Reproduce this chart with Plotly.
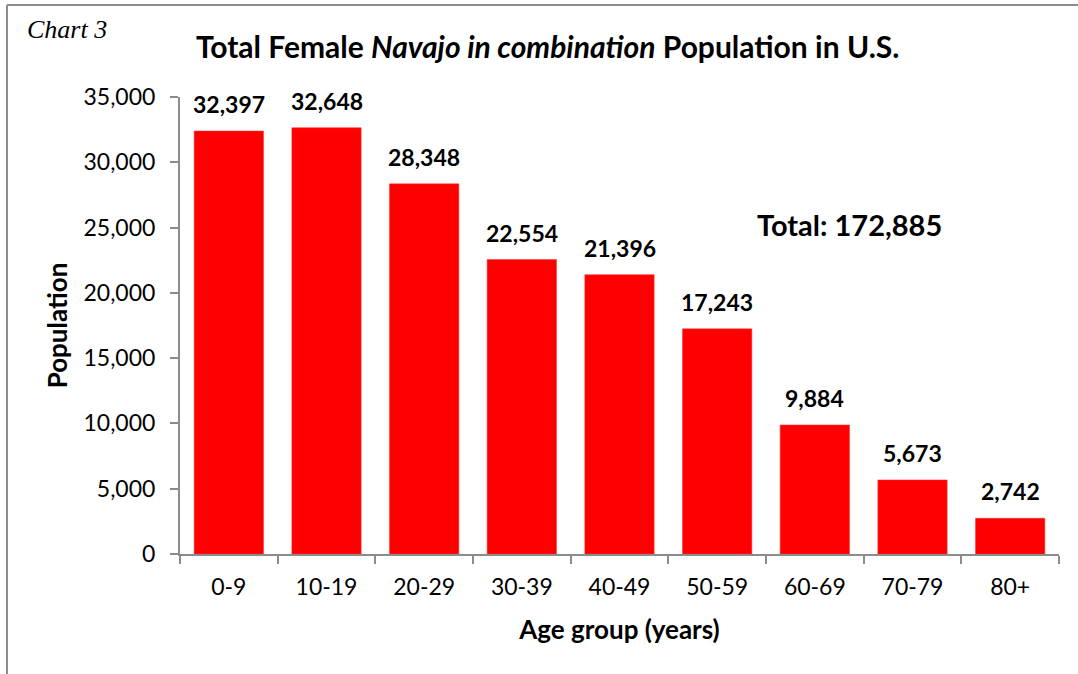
import plotly.graph_objects as go

age_groups = ["0-9", "10-19", "20-29", "30-39", "40-49", "50-59", "60-69", "70-79", "80+"]
population = [32397, 32648, 28348, 22554, 21396, 17243, 9884, 5673, 2742]
y_ticks = [0, 5000, 10000, 15000, 20000, 25000, 30000, 35000]
total_label = "Total: 172,885"

FONT = "Lato"
GREY = "#8c8c8c"

fig = go.Figure()
fig.add_trace(go.Bar(
    x=age_groups,
    y=population,
    marker=dict(color="#ff0000", line=dict(color="#ff3030", width=0.5)),
    hoverinfo="x+y",
))

# data labels above bars
for cat, val in zip(age_groups, population):
    fig.add_annotation(
        x=cat, y=val, text=f"<b>{val:,}</b>",
        showarrow=False, yanchor="bottom", yshift=11,
        font=dict(family=FONT, size=23, color="black"),
    )

fig.add_annotation(
    x="60-69", y=25000, text=f"<b>{total_label}</b>",
    showarrow=False, xanchor="center", yanchor="middle", xshift=35, yshift=3,
    font=dict(family=FONT, size=29, color="black"),
)

fig.add_annotation(
    xref="paper", yref="paper", x=-0.176, y=1.147,
    text="<i>Chart 3</i>", showarrow=False, xanchor="left", yanchor="middle",
    font=dict(family="Liberation Serif", size=26, color="black"),
)

# outer chart frame (left and top edges only visible)
fig.add_shape(type="line", xref="paper", yref="paper",
              x0=-0.1968, x1=-0.1968, y0=1.2013, y1=-0.27,
              line=dict(color=GREY, width=2))
fig.add_shape(type="line", xref="paper", yref="paper",
              x0=-0.1968, x1=1.03, y0=1.2013, y1=1.2013,
              line=dict(color=GREY, width=2))

fig.update_layout(
    width=1078, height=674,
    margin=dict(l=180, r=19, t=97, b=120),
    paper_bgcolor="white", plot_bgcolor="white",
    showlegend=False,
    bargap=0.29,
    title=dict(
        text="<b>Total Female <i>Navajo in combination</i> Population in U.S.</b>",
        x=0.508, xanchor="center", y=0.930, yanchor="middle",
        font=dict(family=FONT, size=30, color="black"),
    ),
    font=dict(family=FONT, color="black"),
)

fig.update_xaxes(
    showline=True, linecolor=GREY, linewidth=2,
    ticks="outside", tickson="boundaries", ticklen=8, tickcolor=GREY, tickwidth=2,
    ticklabelstandoff=11,
    tickfont=dict(family=FONT, size=23, color="black"),
    title=dict(text="<b>Age group (years)</b>", font=dict(family=FONT, size=26, color="black"), standoff=22),
    showgrid=False,
)
fig.update_yaxes(
    range=[0, 35000], tickvals=y_ticks, tickformat=",",
    showline=True, linecolor=GREY, linewidth=2,
    ticks="outside", ticklen=8, tickcolor=GREY, tickwidth=2,
    ticklabelstandoff=10,
    tickfont=dict(family=FONT, size=23, color="black"),
    title=dict(text="<b>Population</b>", font=dict(family=FONT, size=26, color="black"), standoff=8),
    showgrid=False, zeroline=False,
)

fig.write_html("out.html", config={"displayModeBar": False},
               post_script="document.body.style.margin='0';")
